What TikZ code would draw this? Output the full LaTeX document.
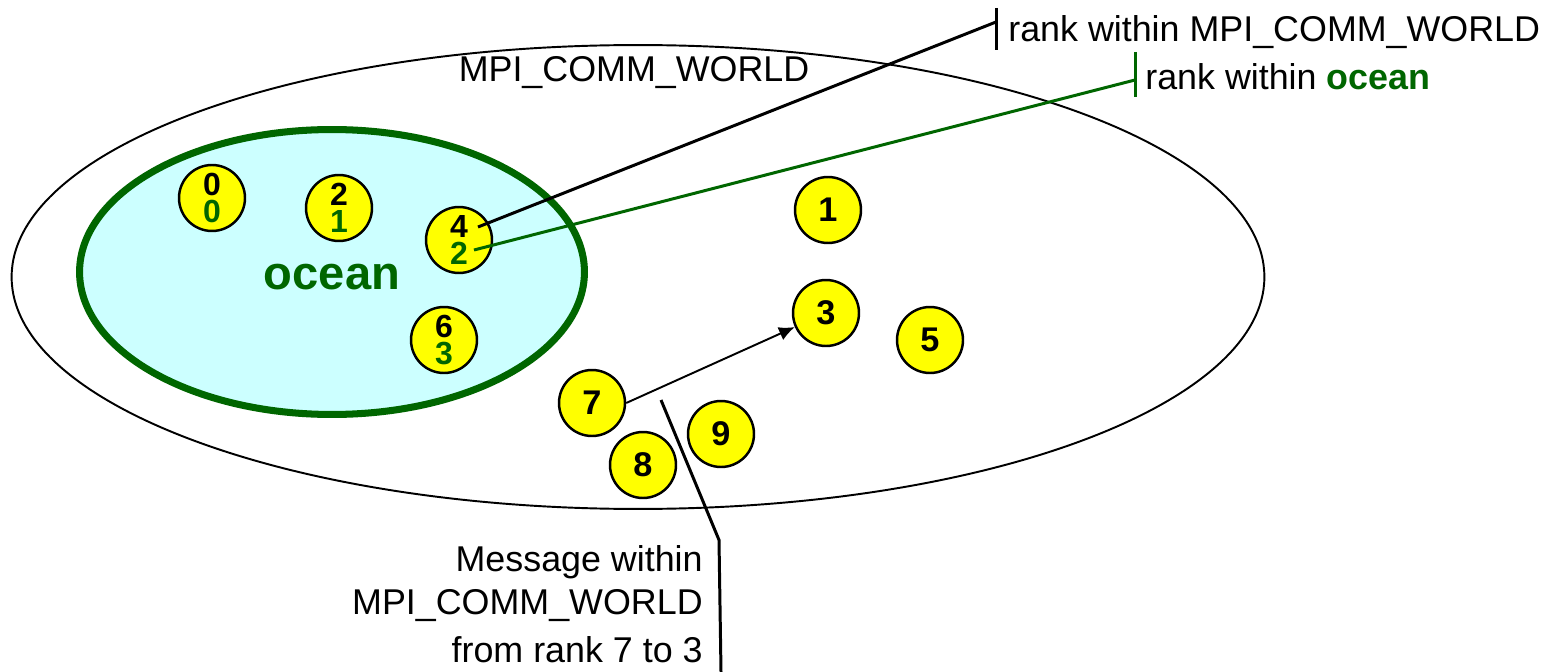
\documentclass[tikz,border=0pt]{standalone}
\usepackage{fontspec}
\setmainfont{Liberation Sans}
\usetikzlibrary{shapes.geometric,arrows.meta}
\definecolor{oceangreen}{RGB}{0,102,0}
\definecolor{oceanfill}{RGB}{204,255,255}
\definecolor{procyellow}{RGB}{255,255,0}
\tikzset{
  proc/.style={circle, draw=black, line width=1.4pt, fill=procyellow,
    minimum size=1.32cm, inner sep=0pt, align=center,
    font=\fontsize{19.5}{16}\selectfont\bfseries},
  procpair/.style={proc, font=\fontsize{18.2}{15.3}\selectfont\bfseries},
  label/.style={inner sep=0pt, font=\fontsize{20.4}{25}\selectfont},
  leader/.style={line width=1.7pt},
}
\begin{document}
\begin{tikzpicture}[x=0.02cm, y=-0.02cm]
\useasboundingbox (0,0) rectangle (1541,672);

% communicators
\node[ellipse, draw=black, line width=1.1pt, minimum width=25.06cm,
      minimum height=9.28cm, inner sep=0pt] (world) at (638,277) {};
\node[label, anchor=center] (worldname) at (634,73) {MPI\_COMM\_WORLD};
\node[ellipse, draw=oceangreen, fill=oceanfill, line width=4pt,
      minimum width=10.1cm, minimum height=5.7cm, inner sep=0pt] (ocean) at (332,272) {};
\node[font=\fontsize{26.8}{30}\selectfont\bfseries, text=oceangreen] (oceanname) at (332,277) {ocean};

% processes: world rank on top, ocean rank below
\node[procpair] (p0) at (212,198) {0\\\textcolor{oceangreen}{0}};
\node[procpair] (p2) at (339,208) {2\\\textcolor{oceangreen}{1}};
\node[procpair] (p4) at (459,240) {4\\\textcolor{oceangreen}{2}};
\node[procpair] (p6) at (444,340) {6\\\textcolor{oceangreen}{3}};
\node[proc] (p1) at (828,210) {1};
\node[proc] (p3) at (826,313) {3};
\node[proc] (p5) at (930,340) {5};
\node[proc] (p7) at (592,403) {7};
\node[proc] (p8) at (643,465) {8};
\node[proc] (p9) at (721,434) {9};

% message 7 -> 3
\draw[line width=1.1pt, -{Latex[length=9pt,width=8pt]}] (p7.east) -- (p3);

% rank legends
\coordinate (worldpt) at (478,227);
\coordinate (worldtick) at (996,22);
\coordinate (worldtickA) at (996,8);
\coordinate (worldtickB) at (996,50);
\node[label, anchor=west] (worldlbl) at (1008,32) {rank within MPI\_COMM\_WORLD};
\draw[leader] (worldpt) -- (worldtick);
\draw[leader] (worldtickA) -- (worldtickB);

\coordinate (oceanpt) at (474,250);
\coordinate (oceantick) at (1135,80);
\coordinate (oceantickA) at (1135,52);
\coordinate (oceantickB) at (1135,97);
\node[label, anchor=west] (oceanlbl) at (1145,77) {rank within \textbf{\textcolor{oceangreen}{ocean}}};
\draw[leader, draw=oceangreen] (oceanpt) -- (oceantick);
\draw[leader, draw=oceangreen] (oceantickA) -- (oceantickB);

% message legend
\coordinate (msgpt) at (661,400);
\coordinate (msgbend) at (719,540);
\coordinate (msgend) at (721,672);
\draw[leader] (msgpt) -- (msgbend) -- (msgend);
\node[label, anchor=east] (msg1) at (703,562) {Message within};
\node[label, anchor=east] (msg2) at (703,606) {MPI\_COMM\_WORLD};
\node[label, anchor=east] (msg3) at (703,650) {from rank 7 to 3};
\end{tikzpicture}
\end{document}
